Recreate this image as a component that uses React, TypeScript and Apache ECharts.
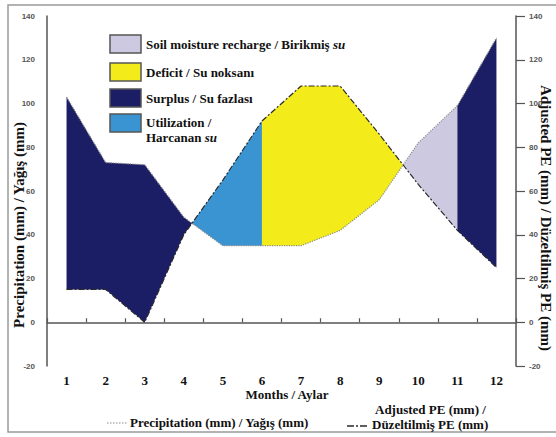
import React, { useEffect, useRef } from 'react';
import * as echarts from 'echarts';

const months = ['1', '2', '3', '4', '5', '6', '7', '8', '9', '10', '11', '12'];
const precipitation = [103, 73, 72, 48, 35, 35, 35, 42, 56, 82, 99, 130];
const adjustedPE = [15, 15, 0, 40, 65, 92, 108, 108, 86, 63, 42, 25];

// zone of each month-to-month segment where precipitation > PE (wet) or PE > precipitation (dry)
const wetZone = ['surplus', 'surplus', 'surplus', 'surplus', '', '', '', '', 'recharge', 'recharge', 'surplus'];
const dryZone = ['', '', '', 'utilization', 'utilization', 'deficit', 'deficit', 'deficit', 'deficit', '', ''];

const zoneColors: Record<string, string> = {
  surplus: '#1b1e64',
  deficit: '#f4ec1a',
  utilization: '#3a94d2',
  recharge: '#cdc9e1',
};

const legendZones = ['recharge', 'deficit', 'surplus', 'utilization'];
const legendLabels = [
  ['Soil moisture recharge / Birikmiş ', 'su'],
  ['Deficit / Su noksanı', ''],
  ['Surplus / Su fazlası', ''],
  ['Utilization /\nHarcanan ', 'su'],
];

const SERIF = 'Liberation Serif';
const SANS = 'Liberation Sans Narrow, Liberation Sans';

const serifText = (size: number) => ({
  fontFamily: SERIF,
  fontWeight: 'bold',
  fontSize: size,
  fill: '#111',
});

export default function App() {
  const ref = useRef<HTMLDivElement>(null);

  useEffect(() => {
    const chart = echarts.init(ref.current!, null, { renderer: 'svg' });

    const renderItem = (params: any, api: any) => {
      type Piece = { zone: string; pr: number[][]; pe: number[][] };
      const pieces: Piece[] = [];
      const add = (zone: string, pr: number[][], pe: number[][]) => {
        const last = pieces[pieces.length - 1];
        if (zone && last && last.zone === zone) {
          last.pr.push(...pr.slice(1));
          last.pe.push(...pe.slice(1));
        } else {
          pieces.push({ zone, pr: [...pr], pe: [...pe] });
        }
      };
      for (let i = 0; i < months.length - 1; i++) {
        const p1 = api.coord([i, precipitation[i]]);
        const p2 = api.coord([i + 1, precipitation[i + 1]]);
        const e1 = api.coord([i, adjustedPE[i]]);
        const e2 = api.coord([i + 1, adjustedPE[i + 1]]);
        const d1 = precipitation[i] - adjustedPE[i];
        const d2 = precipitation[i + 1] - adjustedPE[i + 1];
        const zoneFor = (d: number) => (d >= 0 ? wetZone[i] : dryZone[i]);
        if (d1 * d2 >= 0) {
          add(zoneFor(d1 + d2), [p1, p2], [e1, e2]);
        } else {
          const t = d1 / (d1 - d2);
          const c = [p1[0] + (p2[0] - p1[0]) * t, p1[1] + (p2[1] - p1[1]) * t];
          add(zoneFor(d1), [p1, c], [e1, c]);
          add(zoneFor(d2), [c, p2], [c, e2]);
        }
      }
      const children = pieces
        .filter((p) => p.zone)
        .map((p) => ({
          type: 'polygon',
          shape: { points: [...p.pr, ...p.pe.slice().reverse()] },
          style: { fill: zoneColors[p.zone] },
        }));
      return { type: 'group', children };
    };

    const legendY = [35, 63, 89, 114];
    const legendGraphics: any[] = [];
    legendZones.forEach((z, k) => {
      legendGraphics.push({
        type: 'rect',
        shape: { x: 110, y: legendY[k], width: 31, height: 18 },
        style: { fill: zoneColors[z], stroke: '#555', lineWidth: 1.5 },
        z: 10,
      });
      const [main, it] = legendLabels[k];
      legendGraphics.push({
        type: 'text',
        x: 146,
        y: k === 3 ? legendY[k] + 1 : legendY[k] + 9,
        style: {
          text: it ? `{b|${main.replace('\n', '}\n{b|')}}{i|${it}}` : `{b|${main}}`,
          rich: {
            b: { ...serifText(13), lineHeight: 15 },
            i: { ...serifText(13), fontStyle: 'italic', lineHeight: 15 },
          },
          align: 'left',
          verticalAlign: k === 3 ? 'top' : 'middle',
        },
        z: 10,
      });
    });

    chart.setOption({
      animation: false,
      backgroundColor: '#ffffff',
      grid: { left: 47, right: 40, top: 16, bottom: 71 },
      xAxis: {
        type: 'category',
        data: months,
        boundaryGap: true,
        axisLine: { show: true, lineStyle: { color: '#555', width: 1.5 } },
        axisTick: { show: true, inside: true, length: 4, lineStyle: { color: '#555', width: 1.2 } },
        axisLabel: { margin: 8, color: '#111', fontFamily: SERIF, fontWeight: 'bold', fontSize: 13 },
        splitLine: { show: false },
      },
      yAxis: [
        {
          type: 'value',
          min: -20,
          max: 140,
          interval: 20,
          position: 'left',
          axisLine: { show: true, lineStyle: { color: '#555', width: 1.5 } },
          axisTick: { show: false },
          axisLabel: { margin: 12, color: '#555', fontFamily: SANS, fontWeight: 'bold', fontSize: 8 },
          splitLine: { show: false },
        },
        {
          type: 'value',
          min: -20,
          max: 140,
          interval: 20,
          position: 'right',
          axisLine: { show: true, lineStyle: { color: '#555', width: 1.5 } },
          axisTick: { show: true, inside: false, length: 9, lineStyle: { color: '#555', width: 1.2 } },
          axisLabel: { margin: 13, color: '#555', fontFamily: SANS, fontWeight: 'bold', fontSize: 8 },
          splitLine: { show: false },
        },
      ],
      series: [
        {
          type: 'custom',
          renderItem,
          data: [[0]],
          encode: { x: 0 },
          clip: false,
          z: 1,
          silent: true,
        },
        {
          name: 'Precipitation (mm) / Yağış (mm)',
          type: 'line',
          data: precipitation,
          symbol: 'none',
          lineStyle: { color: '#8a8a8a', type: 'dotted', width: 1.2 },
          z: 3,
        },
        {
          name: 'Adjusted PE (mm) / Düzeltilmiş PE (mm)',
          type: 'line',
          data: adjustedPE,
          symbol: 'none',
          lineStyle: { color: '#2a2a2a', type: [6, 2, 2, 2], width: 1.2 },
          z: 4,
        },
      ],
      graphic: [
        {
          type: 'rect',
          shape: { x: 8, y: 5, width: 560, height: 427 },
          style: { fill: 'none', stroke: '#9a9a9a', lineWidth: 1.5 },
          z: 0,
          silent: true,
        },
        ...legendGraphics,
        {
          type: 'text',
          x: 19,
          y: 225,
          rotation: Math.PI / 2,
          style: {
            text: 'Precipitation (mm) / Yağış (mm)',
            ...serifText(15),
            align: 'center',
            verticalAlign: 'middle',
          },
        },
        {
          type: 'text',
          x: 546,
          y: 218,
          rotation: -Math.PI / 2,
          style: {
            text: 'Adjusted PE (mm) / Düzeltilmiş PE (mm)',
            ...serifText(15),
            align: 'center',
            verticalAlign: 'middle',
          },
        },
        {
          type: 'text',
          x: 287,
          y: 394,
          style: {
            text: 'Months / Aylar',
            ...serifText(13),
            align: 'center',
            verticalAlign: 'middle',
          },
        },
        {
          type: 'line',
          shape: { x1: 107, y1: 423, x2: 128, y2: 423 },
          style: { stroke: '#8a8a8a', lineWidth: 1.2, lineDash: [1.5, 1.5] },
        },
        {
          type: 'text',
          x: 130,
          y: 422,
          style: {
            text: 'Precipitation (mm) / Yağış (mm)',
            ...serifText(13),
            align: 'left',
            verticalAlign: 'middle',
          },
        },
        {
          type: 'line',
          shape: { x1: 347, y1: 426, x2: 368, y2: 426 },
          style: { stroke: '#2a2a2a', lineWidth: 1.5, lineDash: [7, 2, 2, 2] },
        },
        {
          type: 'text',
          x: 375,
          y: 409,
          style: {
            text: 'Adjusted PE (mm) /',
            ...serifText(13),
            align: 'left',
            verticalAlign: 'middle',
          },
        },
        {
          type: 'text',
          x: 372,
          y: 424,
          style: {
            text: 'Düzeltilmiş PE (mm)',
            ...serifText(13),
            align: 'left',
            verticalAlign: 'middle',
          },
        },
      ],
    });

    return () => chart.dispose();
  }, []);

  return (
    <div
      ref={ref}
      style={{ position: 'absolute', left: 0, top: 0, width: 556, height: 437 }}
    />
  );
}
